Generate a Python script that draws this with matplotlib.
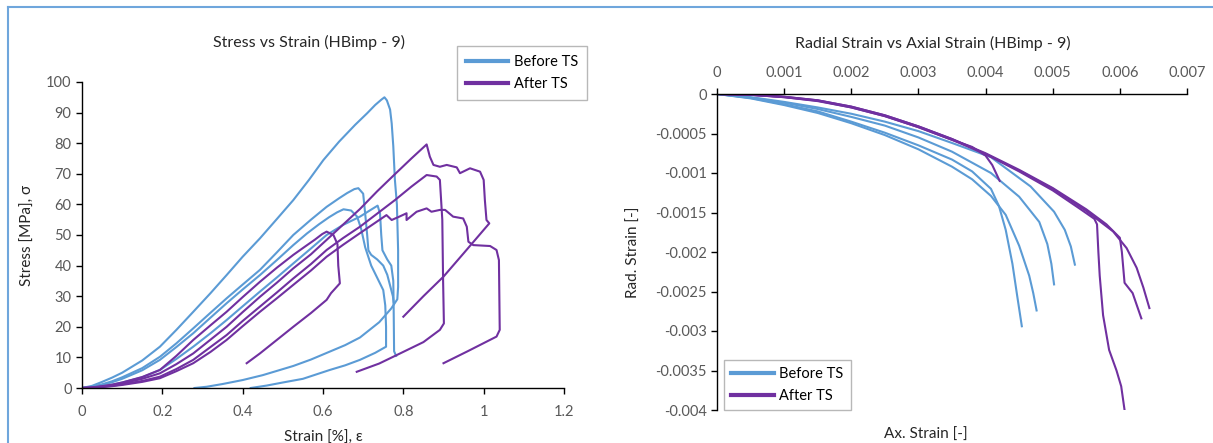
import numpy as np
import matplotlib
matplotlib.use("Agg")
import matplotlib.pyplot as plt
from matplotlib.lines import Line2D

plt.rcParams['font.family'] = ['Lato', 'DejaVu Sans']
plt.rcParams['axes.unicode_minus'] = False

BLUE = '#5b9bd5'
PURPLE = '#7030a0'

# ---- Stress vs strain: before TS (strain %, stress MPa) ----
b1_strain = [0, 0.025, 0.05, 0.075, 0.10, 0.15, 0.194, 0.235, 0.277, 0.32, 0.36, 0.40, 0.443,
             0.485, 0.526, 0.565, 0.601, 0.64, 0.68, 0.71, 0.73, 0.745, 0.753,
             0.759, 0.767, 0.771, 0.775, 0.779, 0.784, 0.787, 0.787, 0.785,
             0.77, 0.74, 0.692, 0.655, 0.617, 0.57, 0.526, 0.45, 0.40, 0.35, 0.31, 0.28]
b1_stress = [0, 0.7, 2, 3.4, 5, 9, 13.5, 19, 24.9, 31, 36.9, 42.9, 48.9,
             55.2, 61.4, 68, 74.5, 80.5, 86, 89.8, 92.5, 94.2, 95,
             94, 91, 86.5, 79, 68, 60, 45, 33, 29,
             26, 21.5, 16.5, 14, 11.9, 9.3, 7.2, 4.2, 2.6, 1.3, 0.4, 0]

b2_strain = [0, 0.025, 0.05, 0.075, 0.10, 0.15, 0.194, 0.235, 0.277, 0.32, 0.36, 0.40, 0.443,
             0.485, 0.526, 0.57, 0.609, 0.64, 0.66, 0.678, 0.688,
             0.70, 0.705, 0.71, 0.713, 0.72, 0.735, 0.75, 0.76, 0.768, 0.774, 0.776]
b2_stress = [0, 0.4, 1.2, 2.2, 3.5, 6.5, 10.2, 14.6, 19.5, 24.6, 29.3, 33.8, 38.6,
             44.3, 50, 55, 59.2, 62, 63.7, 65, 65.3,
             63.5, 57, 50, 45, 43.5, 42, 40, 37, 33, 30, 28]

b3_strain = [0, 0.025, 0.05, 0.075, 0.10, 0.15, 0.194, 0.235, 0.277, 0.32, 0.36, 0.40, 0.443,
             0.485, 0.526, 0.56, 0.59, 0.615, 0.635, 0.651,
             0.67, 0.685, 0.695, 0.705, 0.72, 0.735, 0.75, 0.755, 0.757, 0.757,
             0.73, 0.692, 0.655, 0.617, 0.58, 0.55, 0.5, 0.46, 0.42]
b3_stress = [0, 0.3, 1.0, 1.9, 3.0, 5.8, 9.2, 13.4, 17.9, 23, 27.7, 32.2, 36.9,
             41.8, 46.7, 50.5, 53.5, 55.8, 57.4, 58.4,
             58, 56, 52, 46, 40, 36, 32, 27, 20, 13.5,
             11.5, 9.2, 7.4, 5.9, 4.3, 3, 1.8, 0.8, 0]

b4_strain = [0, 0.025, 0.05, 0.075, 0.10, 0.15, 0.194, 0.235, 0.277, 0.32, 0.36, 0.40, 0.443,
             0.485, 0.526, 0.57, 0.609, 0.65, 0.692, 0.72, 0.736,
             0.742, 0.745, 0.748, 0.76, 0.77, 0.775, 0.776, 0.777, 0.782]
b4_stress = [0, 0.2, 0.6, 1.1, 1.8, 3.5, 5.9, 9.5, 13.5, 17.9, 22.2, 26.7, 31.5,
             36.1, 40.7, 45.6, 50, 53.3, 56, 58.3, 59.6,
             57, 50, 45, 42, 40, 35, 25, 12, 10.5]

# ---- Stress vs strain: after TS ----
p1_strain = [0, 0.025, 0.05, 0.075, 0.10, 0.15, 0.194, 0.235, 0.277, 0.32, 0.36, 0.40, 0.443,
             0.485, 0.526, 0.555, 0.58, 0.598, 0.609,
             0.626, 0.636, 0.638, 0.642, 0.62, 0.609, 0.57, 0.526, 0.485, 0.443, 0.41]
p1_stress = [0, 0.2, 0.6, 1.1, 1.8, 3.6, 5.9, 10.5, 15.7, 20.5, 24.9, 29.7, 34.7,
             39.3, 43.5, 46.2, 48.5, 50.3, 51.1,
             50, 47, 40, 34.2, 31, 28.8, 24.5, 20, 15.7, 11.3, 8.1]

p2_strain = [0, 0.025, 0.05, 0.075, 0.10, 0.15, 0.194, 0.235, 0.277, 0.32, 0.36, 0.40, 0.443,
             0.485, 0.526, 0.57, 0.609, 0.65, 0.692, 0.735, 0.78, 0.82, 0.858,
             0.866, 0.875, 0.891, 0.908, 0.933, 0.941, 0.966, 0.991, 1.0, 1.003, 1.007, 1.014,
             0.95, 0.9, 0.85, 0.80]
p2_stress = [0, 0.15, 0.5, 0.9, 1.5, 3.0, 4.8, 7.8, 11.3, 15.8, 20, 24.8, 29.8,
             34.4, 39.1, 43.7, 48.4, 53.4, 58.5, 64.3, 70, 75, 79.6,
             75.6, 72.9, 72.3, 72.9, 72.1, 70.2, 71.8, 70.7, 68, 61.4, 54.9, 53.8,
             44, 36.4, 30, 23.3]

p3_strain = [0, 0.025, 0.05, 0.075, 0.10, 0.15, 0.194, 0.235, 0.277, 0.32, 0.36, 0.40, 0.443,
             0.485, 0.526, 0.57, 0.609, 0.65, 0.692, 0.735, 0.78, 0.82, 0.858,
             0.883, 0.891, 0.897, 0.899, 0.901, 0.891, 0.85, 0.792, 0.74, 0.684]
p3_stress = [0, 0.1, 0.4, 0.7, 1.2, 2.3, 3.7, 6.2, 9.2, 13.4, 17.3, 21.9, 26.6,
             31.2, 35.8, 40.5, 45.1, 49, 52.7, 57, 61.5, 65.8, 69.6,
             69.1, 68, 55, 35, 21.1, 19, 15, 11.3, 8, 5.3]

p4_strain = [0, 0.025, 0.05, 0.075, 0.10, 0.15, 0.194, 0.235, 0.277, 0.32, 0.36, 0.40, 0.443,
             0.485, 0.526, 0.57, 0.609, 0.65, 0.692, 0.73, 0.758,
             0.771, 0.79, 0.808, 0.808, 0.833, 0.858, 0.87, 0.891, 0.904, 0.924, 0.949, 0.958,
             0.962, 0.974, 1.016, 1.032, 1.038, 1.04, 1.032, 0.96, 0.9]
p4_stress = [0, 0.1, 0.3, 0.6, 1.0, 2.0, 3.2, 5.5, 8.1, 11.8, 15.7, 20.2, 24.9,
             29.3, 33.7, 38.4, 42.9, 46.8, 50.6, 54, 56.5,
             54.9, 56, 57.1, 54.9, 57.6, 58.7, 57.6, 58.2, 58.2, 56, 55.4, 52.7,
             47.8, 46.7, 46.4, 45.1, 41.8, 19, 16.8, 12, 8.1]

# ---- Radial vs axial strain (both in units of 1e-3) ----
rb1_ax = [0, 0.5, 1.0, 1.5, 2.0, 2.5, 3.0, 3.5, 3.8, 4.08, 4.2, 4.3, 4.4, 4.47, 4.54]
rb1_rad = [0, -0.05, -0.13, -0.22, -0.35, -0.49, -0.65, -0.83, -0.98, -1.20, -1.42, -1.72, -2.15,
           -2.55, -2.94]
rb2_ax = [0, 0.5, 1.0, 1.5, 2.0, 2.5, 3.0, 3.5, 3.8, 4.08, 4.3, 4.5, 4.65, 4.71, 4.76]
rb2_rad = [0, -0.055, -0.14, -0.24, -0.37, -0.52, -0.70, -0.92, -1.08, -1.29, -1.53, -1.92, -2.3,
           -2.52, -2.74]
rb3_ax = [0, 0.5, 1.0, 1.5, 2.0, 2.5, 3.0, 3.5, 4.08, 4.5, 4.8, 4.92, 4.98, 5.02]
rb3_rad = [0, -0.045, -0.11, -0.19, -0.29, -0.40, -0.55, -0.73, -1.0, -1.30, -1.62, -1.9, -2.15,
           -2.41]
rb4_ax = [0, 0.5, 1.0, 1.5, 2.0, 2.5, 3.0, 3.5, 4.08, 4.67, 5.02, 5.18, 5.27, 5.33]
rb4_rad = [0, -0.04, -0.10, -0.17, -0.25, -0.35, -0.47, -0.62, -0.80, -1.17, -1.49, -1.72, -1.93,
           -2.16]

rp1_ax = [0, 0.5, 1.0, 1.5, 2.0, 2.5, 3.0, 3.5, 3.8, 4.0, 4.1, 4.21]
rp1_rad = [0, -0.01, -0.04, -0.09, -0.17, -0.28, -0.42, -0.58, -0.67, -0.78, -0.90, -1.10]
rp2_ax = [0, 0.5, 1.0, 1.5, 2.0, 2.5, 3.0, 3.5, 4.0, 4.5, 5.0, 5.4, 5.62, 5.66, 5.68, 5.70,
          5.75, 5.84, 5.95, 6.02, 6.07]
rp2_rad = [0, -0.01, -0.035, -0.08, -0.16, -0.27, -0.41, -0.57, -0.76, -0.98, -1.22, -1.45, -1.58,
           -1.65, -2.0, -2.3, -2.8, -3.24, -3.5, -3.70, -4.0]
rp3_ax = [0, 0.5, 1.0, 1.5, 2.0, 2.5, 3.0, 3.5, 4.0, 4.5, 5.0, 5.5, 5.8, 6.0, 6.03, 6.07, 6.19, 6.32]
rp3_rad = [0, -0.01, -0.035, -0.08, -0.16, -0.27, -0.41, -0.57, -0.75, -0.96, -1.19, -1.46, -1.65,
           -1.82, -2.0, -2.39, -2.52, -2.84]
rp4_ax = [0, 0.5, 1.0, 1.5, 2.0, 2.5, 3.0, 3.5, 4.0, 4.5, 5.0, 5.5, 5.9, 6.1, 6.25, 6.35, 6.44]
rp4_rad = [0, -0.01, -0.04, -0.085, -0.17, -0.28, -0.42, -0.58, -0.76, -0.97, -1.20, -1.48, -1.74,
           -1.95, -2.2, -2.45, -2.71]

stress_ticks = list(range(0, 101, 10))
strain_ticks = [0, 0.2, 0.4, 0.6, 0.8, 1.0, 1.2]
strain_labels = ['0', '0.2', '0.4', '0.6', '0.8', '1', '1.2']
ax_ticks = [0, 0.001, 0.002, 0.003, 0.004, 0.005, 0.006, 0.007]
ax_labels = ['0', '0.001', '0.002', '0.003', '0.004', '0.005', '0.006', '0.007']
rad_ticks = [0, -0.0005, -0.001, -0.0015, -0.002, -0.0025, -0.003, -0.0035, -0.004]
rad_labels = ['0', '-0.0005', '-0.001', '-0.0015', '-0.002', '-0.0025', '-0.003', '-0.0035', '-0.004']

W, H = 1213, 443
fig = plt.figure(figsize=(W / 100, H / 100), dpi=100)

# chart-area border (light blue)
fig.add_artist(Line2D([8 / W, 1], [1 - 7 / H, 1 - 7 / H], color='#6fa6dc', lw=1.5))
fig.add_artist(Line2D([8 / W, 8 / W], [0, 1 - 7 / H], color='#6fa6dc', lw=1.5))

TICK_C = '#595959'
TXT_C = '#262626'


def style_axis(ax):
    ax.tick_params(direction='out', length=4, width=1, colors='black',
                   labelcolor=TICK_C, labelsize=10.5)
    for s in ax.spines.values():
        s.set_color('black')
        s.set_linewidth(1)


# ---- left: stress vs strain ----
ax1 = fig.add_axes([82 / W, 1 - 388 / H, 482 / W, 306 / H])
lw = 1.5
for xs, ys in [(b1_strain, b1_stress), (b2_strain, b2_stress),
               (b3_strain, b3_stress), (b4_strain, b4_stress)]:
    ax1.plot(xs, ys, color=BLUE, lw=lw, solid_joinstyle='round')
for xs, ys in [(p1_strain, p1_stress), (p2_strain, p2_stress),
               (p3_strain, p3_stress), (p4_strain, p4_stress)]:
    ax1.plot(xs, ys, color=PURPLE, lw=lw, solid_joinstyle='round')
ax1.set_xlim(0, 1.2)
ax1.set_ylim(0, 100)
ax1.set_xticks(strain_ticks)
ax1.set_xticklabels(strain_labels)
ax1.set_yticks(stress_ticks)
ax1.spines['top'].set_visible(False)
ax1.spines['right'].set_visible(False)
style_axis(ax1)
ax1.tick_params(axis='x', pad=8)
ax1.set_title('Stress vs Strain (HBimp - 9)', fontsize=11.5, color=TXT_C, pad=25, x=0.47)
ax1.set_xlabel('Strain [%], ε', fontsize=11, color=TXT_C, labelpad=9)
ax1.set_ylabel('Stress [MPa], σ', fontsize=11, color=TXT_C, labelpad=8)

handles = [Line2D([], [], color=BLUE, lw=3), Line2D([], [], color=PURPLE, lw=3)]
fig.legend(handles, ['Before TS', 'After TS'], loc='upper left',
           bbox_to_anchor=(457 / W, 1 - 46 / H), fontsize=10.5, frameon=True,
           fancybox=False, edgecolor='#a6a6a6', handlelength=2.9, borderpad=0.6,
           labelspacing=0.6, handletextpad=0.4, borderaxespad=0)

# ---- right: radial vs axial strain ----
ax2 = fig.add_axes([717 / W, 1 - 410 / H, 470 / W, 316 / H])
for xs, ys in [(rb1_ax, rb1_rad), (rb2_ax, rb2_rad), (rb3_ax, rb3_rad), (rb4_ax, rb4_rad)]:
    ax2.plot(np.array(xs) * 1e-3, np.array(ys) * 1e-3, color=BLUE, lw=lw, solid_joinstyle='round')
for xs, ys in [(rp1_ax, rp1_rad), (rp2_ax, rp2_rad), (rp3_ax, rp3_rad), (rp4_ax, rp4_rad)]:
    ax2.plot(np.array(xs) * 1e-3, np.array(ys) * 1e-3, color=PURPLE, lw=lw, solid_joinstyle='round')
ax2.set_xlim(0, 0.007)
ax2.set_ylim(-0.004, 0)
ax2.xaxis.set_ticks_position('top')
ax2.xaxis.set_label_position('bottom')
ax2.set_xticks(ax_ticks)
ax2.set_xticklabels(ax_labels)
ax2.set_yticks(rad_ticks)
ax2.set_yticklabels(rad_labels)
ax2.spines['bottom'].set_visible(False)
ax2.spines['right'].set_visible(False)
style_axis(ax2)
ax2.tick_params(axis='x', pad=6)
ax2.set_title('Radial Strain vs Axial Strain (HBimp - 9)', fontsize=11.5, color=TXT_C,
              pad=33, x=0.46)
ax2.set_xlabel('Ax. Strain [-]', fontsize=11, color=TXT_C)
ax2.xaxis.set_label_coords(0.445, -0.055)
ax2.set_ylabel('Rad. Strain [-]', fontsize=11, color=TXT_C, labelpad=10)

ax2.legend(handles, ['Before TS', 'After TS'], loc='lower left',
           bbox_to_anchor=(0.015, 0.0), fontsize=10.5, frameon=True, fancybox=False,
           edgecolor='#a6a6a6', handlelength=2.9, borderpad=0.5, labelspacing=0.5,
           handletextpad=0.4, borderaxespad=0)

fig.savefig('out.png', dpi=100)
